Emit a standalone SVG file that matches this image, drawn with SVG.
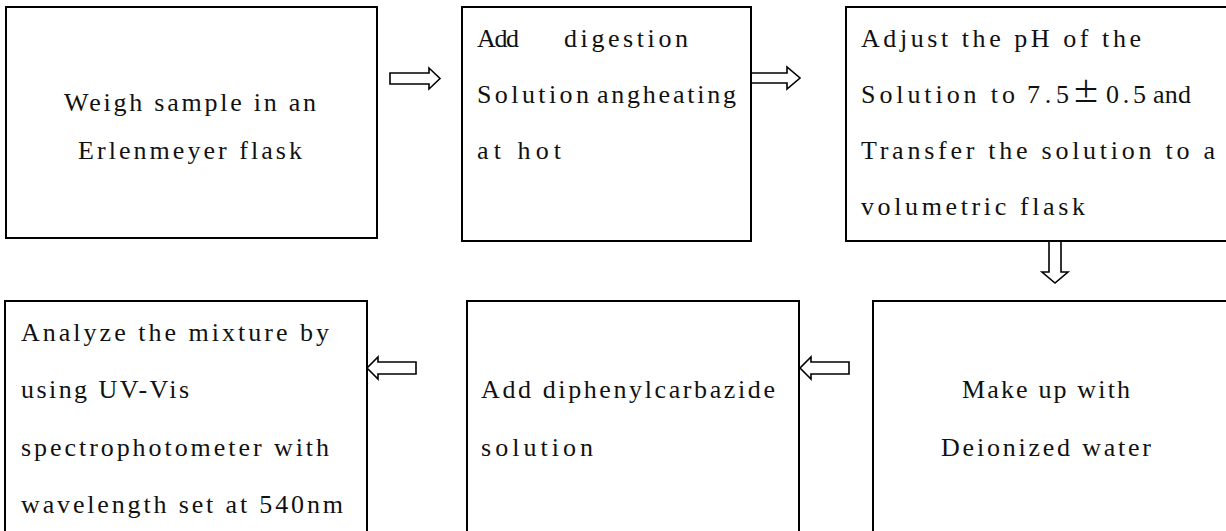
<svg xmlns="http://www.w3.org/2000/svg" width="1226" height="531" viewBox="0 0 1226 531">
<style>
.box{fill:#fff;stroke:#000;stroke-width:2}
.arr{fill:#fff;stroke:#000;stroke-width:1.6;stroke-linejoin:miter}
text{font-family:"Liberation Serif","DejaVu Serif",serif;font-size:26px;fill:#111}
.c{text-anchor:middle}
.pm{font-family:"Noto Sans CJK SC","DejaVu Sans",sans-serif;font-size:28px}
</style>
<rect width="1226" height="531" fill="#fff"/>
<g id="connectors">
<path class="arr" d="M390,73 H429 V68 L440,78.5 L429,89 V84 H390 Z"/>
<path class="arr" d="M751,73 H787 V67 L800,78 L787,89 V83 H751 Z"/>
<path class="arr" d="M1049,241 V272 H1042 L1055,283 L1068,272 H1061 V241 Z"/>
<path class="arr" d="M416,362 H378 V357 L367,368 L378,379 V374 H416 Z"/>
<path class="arr" d="M849,362 H811 V357 L800,368 L811,379 V374 H849 Z"/>
</g>
<g id="n1">
<rect class="box" x="6" y="7" width="371" height="231"/>
<text class="c" x="190" y="111" textLength="252" lengthAdjust="spacing">Weigh sample in an</text>
<text class="c" x="190" y="159" textLength="224" lengthAdjust="spacing">Erlenmeyer flask</text>
</g>
<g id="n2">
<rect class="box" x="462" y="7" width="289" height="234"/>
<text x="477" y="47" textLength="42" lengthAdjust="spacing">Add</text>
<text x="564" y="47" textLength="124" lengthAdjust="spacing">digestion</text>
<text x="477" y="103" textLength="112" lengthAdjust="spacing">Solution</text>
<text x="597" y="103" textLength="139" lengthAdjust="spacing">angheating</text>
<text x="477" y="159" textLength="84" lengthAdjust="spacing">at hot</text>
</g>
<g id="n3">
<rect class="box" x="846" y="7" width="390" height="234"/>
<text x="861" y="47" textLength="280" lengthAdjust="spacing">Adjust the pH of the</text>
<text x="861" y="103" textLength="154" lengthAdjust="spacing">Solution to</text>
<text x="1027" y="103" textLength="42" lengthAdjust="spacing">7.5</text>
<text class="pm" x="1072" y="103">±</text>
<text x="1106" y="103" textLength="40" lengthAdjust="spacing">0.5</text>
<text x="1153" y="103" textLength="38" lengthAdjust="spacing">and</text>
<text x="861" y="159" textLength="354" lengthAdjust="spacing">Transfer the solution to a</text>
<text x="861" y="215" textLength="224" lengthAdjust="spacing">volumetric flask</text>
</g>
<g id="n4">
<rect class="box" x="5" y="301" width="362" height="240"/>
<text x="21" y="341" textLength="308" lengthAdjust="spacing">Analyze the mixture by</text>
<text x="21" y="398" textLength="168" lengthAdjust="spacing">using UV-Vis</text>
<text x="21" y="456" textLength="308" lengthAdjust="spacing">spectrophotometer with</text>
<text x="21" y="513" textLength="322" lengthAdjust="spacing">wavelength set at 540nm</text>
</g>
<g id="n5">
<rect class="box" x="467" y="301" width="332" height="240"/>
<text x="481" y="398" textLength="294" lengthAdjust="spacing">Add diphenylcarbazide</text>
<text x="481" y="456" textLength="112" lengthAdjust="spacing">solution</text>
</g>
<g id="n6">
<rect class="box" x="873" y="301" width="363" height="240"/>
<text class="c" x="1046" y="398" textLength="168" lengthAdjust="spacing">Make up with</text>
<text class="c" x="1046" y="456" textLength="210" lengthAdjust="spacing">Deionized water</text>
</g>
</svg>
